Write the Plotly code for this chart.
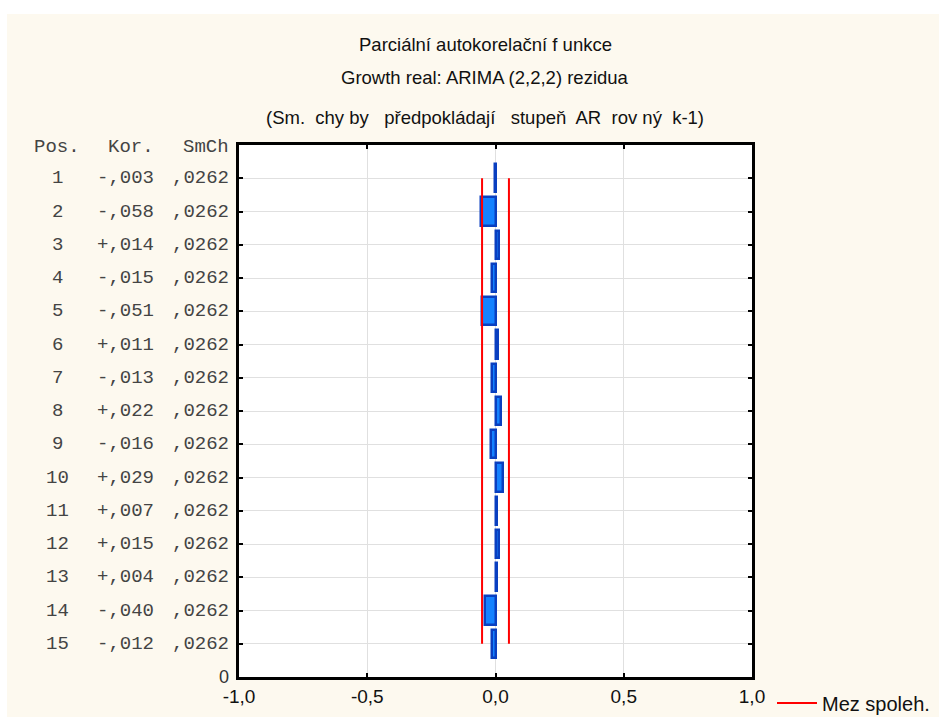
import plotly.graph_objects as go

# Partial autocorrelation of ARIMA(2,2,2) residuals
lags = list(range(1, 16))
pacf = [-0.003, -0.058, 0.014, -0.015, -0.051, 0.011, -0.013, 0.022,
        -0.016, 0.029, 0.007, 0.015, 0.004, -0.040, -0.012]
std_err = [0.0262] * 15
pacf_labels = ["-,003", "-,058", "+,014", "-,015", "-,051", "+,011", "-,013", "+,022",
               "-,016", "+,029", "+,007", "+,015", "+,004", "-,040", "-,012"]
se_labels = [",0262"] * 15
x_ticks = [-1.0, -0.5, 0.0, 0.5, 1.0]
x_tick_text = ["-1,0", "-0,5", "0,0", "0,5", "1,0"]
titles = ["Parciální autokorelační f unkce",
          "Growth real: ARIMA (2,2,2) rezidua",
          "(Sm.  chy by   předpokládají   stupeň  AR  rov ný  k-1)"]
header = ["Pos.", "Kor.", "SmCh"]

W, H = 939, 717
ML, MR, MT, MB = 239, 187, 145, 40
PW, PH = W - ML - MR, H - MT - MB

def px_x(px):
    return (px - ML) / PW

def px_y(py):
    return (H - MB - py) / PH

BG = "#fdf9ef"
MONO = "Liberation Mono, Courier New, monospace"
SANS = "Liberation Sans, Arial, sans-serif"

limit = [2 * s for s in std_err]

fig = go.Figure()
fig.add_trace(go.Bar(
    x=pacf, y=lags, base=0, orientation="h", width=0.85,
    marker=dict(color="#1582ff", line=dict(color="#0a3fc0", width=2.5)),
    showlegend=False, hoverinfo="x+y",
))
fig.add_trace(go.Scatter(
    x=[-limit[0]] * 2 + [None] + [limit[0]] * 2,
    y=[lags[0], lags[-1], None, lags[0], lags[-1]],
    mode="lines", line=dict(color="#ff0000", width=2),
    name="Mez spoleh.", showlegend=True,
))

ann = []
for i, t in enumerate(titles):
    ann.append(dict(text=t, x=px_x(485), y=px_y([45, 78, 117][i]), xref="paper", yref="paper",
                    xanchor="center", yanchor="middle", showarrow=False,
                    font=dict(family=SANS, size=18.5, color="#111111")))

# table header and rows left of the axis
hdr_pos = [(57, "center"), (156, "right"), (231, "right")]
for (px, anc), h in zip(hdr_pos, header):
    ann.append(dict(text=h, x=px_x(px), y=px_y(147), xref="paper", yref="paper",
                    xanchor=anc, yanchor="middle", showarrow=False,
                    font=dict(family=MONO, size=19, color="#444444")))
for lag, k, s in zip(lags, pacf_labels, se_labels):
    for (px, anc), t in zip(hdr_pos, [str(lag), k, s]):
        ann.append(dict(text=t, x=px_x(px), y=lag, xref="paper", yref="y",
                        xanchor=anc, yanchor="middle", showarrow=False,
                        font=dict(family=MONO, size=19, color="#444444")))
ann.append(dict(text="0", x=px_x(231), y=16, xref="paper", yref="y",
                xanchor="right", yanchor="middle", showarrow=False,
                font=dict(family=SANS, size=18, color="#333333")))

shapes = [
    dict(type="rect", xref="paper", yref="paper", x0=px_x(0), x1=px_x(7),
         y0=px_y(H), y1=px_y(0), fillcolor="white", line=dict(width=0), layer="below"),
    dict(type="rect", xref="paper", yref="paper", x0=px_x(0), x1=px_x(W),
         y0=px_y(14), y1=px_y(0), fillcolor="white", line=dict(width=0), layer="below"),
]

fig.update_layout(
    width=W, height=H,
    margin=dict(l=ML, r=MR, t=MT, b=MB, pad=0, autoexpand=False),
    paper_bgcolor=BG, plot_bgcolor="white",
    annotations=ann, shapes=shapes,
    bargap=0,
    legend=dict(x=px_x(772), y=px_y(703), xanchor="left", yanchor="middle",
                bgcolor="rgba(0,0,0,0)", font=dict(family=SANS, size=20, color="#111111"),
                itemwidth=40),
    xaxis=dict(range=[-1, 1], tickvals=x_ticks, ticktext=x_tick_text,
               showgrid=True, gridcolor="#e0e0e0", gridwidth=1, zeroline=False,
               showline=True, linecolor="black", linewidth=3, mirror="ticks",
               ticks="inside", ticklen=4, tickcolor="black", tickwidth=2,
               tickfont=dict(family=SANS, size=19, color="#111111")),
    yaxis=dict(range=[16, 0], tickvals=list(range(1, 16)), showticklabels=False,
               showgrid=True, gridcolor="#e0e0e0", gridwidth=1, zeroline=False,
               showline=True, linecolor="black", linewidth=3, mirror="ticks",
               ticks="inside", ticklen=4, tickcolor="black", tickwidth=2),
)

fig.write_html("out.html")
